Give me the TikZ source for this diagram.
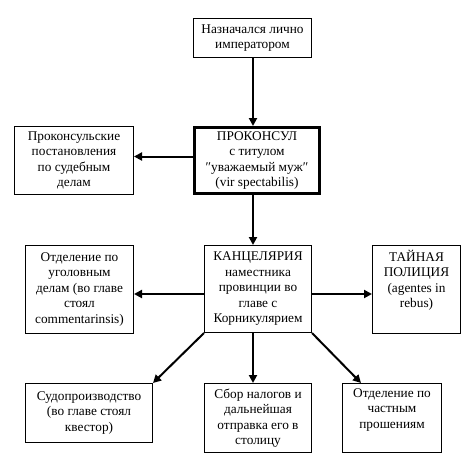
\documentclass[tikz,border=0pt]{standalone}
\usepackage{fontspec}
\setmainfont{Liberation Serif}
\usetikzlibrary{arrows.meta,calc}
\begin{document}
\begin{tikzpicture}[x=1pt,y=-1pt,
  box/.style={draw,line width=1pt,inner sep=0pt,align=center,
    font=\fontsize{13.3}{15.5}\selectfont},
  bigbox/.style={box,line width=3pt},
  txt/.style={inner sep=0pt,align=center,font=\fontsize{13.3}{15.5}\selectfont},
  arr/.style={line width=2pt,-{Triangle[length=8pt,width=8pt]}}]
\useasboundingbox (0,0) rectangle (476,474);
\node[box,minimum width=118pt,minimum height=39pt] (n1) at (252.5,38) {Назначался лично\\императором};
\node[bigbox,minimum width=125pt,minimum height=66pt] (pc) at (257,160.5) {ПРОКОНСУЛ\\с титулом\\″уважаемый муж″\\(vir spectabilis)};
\node[box,minimum width=119pt,minimum height=68pt] (pp) at (74,160.5) {Проконсульские\\постановления\\по судебным\\делам};
\node[box,minimum width=107pt,minimum height=87pt] (kan) at (258,289) {КАНЦЕЛЯРИЯ\\наместника\\провинции во\\главе с\\Корникулярием};
\node[box,minimum width=108pt,minimum height=88pt] (ug) at (79.5,289.5) {Отделение по\\уголовным\\делам (во главе\\стоял\\commentarinsis)};
\node[box,minimum width=88pt,minimum height=88pt] (tp) at (416.5,289.5) {};
\node[txt,anchor=north] (tpt) at ($(tp.north)+(0,5)$) {ТАЙНАЯ\\ПОЛИЦИЯ\\(agentes in\\rebus)};
\node[box,minimum width=127pt,minimum height=59pt] (sud) at (89,413) {Судопроизводство\\(во главе стоял\\квестор)};
\node[box,minimum width=107pt,minimum height=69pt] (sbor) at (258,418) {Сбор налогов и\\дальнейшая\\отправка его в\\столицу};
\node[box,minimum width=99pt,minimum height=69pt] (ch) at (392,418) {};
\node[txt,anchor=north] (cht) at ($(ch.north)+(0,5)$) {Отделение по\\частным\\прошениям};
\coordinate (a1) at ($(n1.south)+(0.5,0)$);
\coordinate (a2) at ($(pc.west)+(0,-4)$);
\coordinate (a3) at ($(pc.south)+(-4,0)$);
\coordinate (a4) at ($(kan.west)+(0,5)$);
\coordinate (a5) at ($(kan.east)+(0,5)$);
\coordinate (a6) at ($(kan.south)+(-5,0)$);
\coordinate (a7) at ($(ch.north west)+(19,0)$);
\draw[arr] (a1) -- (a1 |- pc.north);
\draw[arr] (a2) -- (a2 -| pp.east);
\draw[arr] (a3) -- (a3 |- kan.north);
\draw[arr] (a4) -- (a4 -| ug.east);
\draw[arr] (a5) -- (a5 -| tp.west);
\draw[arr] (kan.south west) -- (sud.north east);
\draw[arr] (a6) -- (a6 |- sbor.north);
\draw[arr] (kan.south east) -- (a7);
\end{tikzpicture}
\end{document}
